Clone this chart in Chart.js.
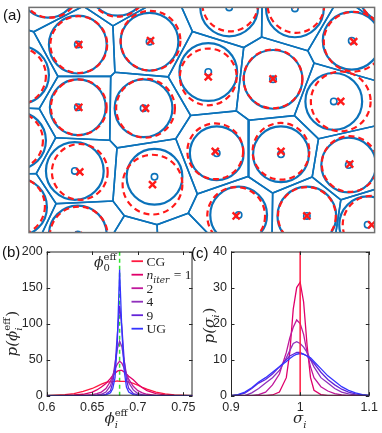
<!DOCTYPE html>
<html>
<head>
<meta charset="utf-8">
<script src="https://cdn.jsdelivr.net/npm/chart.js@4.4.0/dist/chart.umd.min.js"></script>
<style>
  body { margin: 0; background: #fff; width: 382px; height: 433px; position: relative; overflow: hidden; }
  canvas { position: absolute; }
  #cA { left: 0; top: 0; }
  #cB { left: 0; top: 240px; }
  #cC { left: 188px; top: 240px; }
</style>
</head>
<body>
<canvas id="cA" width="382" height="240"></canvas>
<canvas id="cB" width="200" height="193"></canvas>
<canvas id="cC" width="194" height="193"></canvas>
<script>
// ---- panel (a): particles (blue = actual, red = target) ----
const siteX = [49, 121, 201, 267, 324, 180, 245, 49, 115, 306, 46, 126, 188.5, 253, 321, 210.5, 279, 340, -9, -12, -11, 19, 89, 49, 361, 101, 159];
const siteY = [38, 35, 0, 1, 34, 66, 73.5, 102, 103, 96, 167, 173, 149, 150, 161, 212, 213, 222, 69, 136, 204, -19, -21, 232, -15, 263, 261];
const siteR = [29, 29, 29, 29, 29, 29, 29.5, 28, 29, 28.5, 29, 28, 27, 28, 27.5, 28.5, 29.5, 28.5, 29, 29, 29, 29, 29, 29, 30, 29, 29];
const markX = [50, 122, 202, 268, 326, 180, 245, 50, 117, 313, 51, 124, 187, 253, 322, 208, 279, 344, -12, -15, -13, 21, 89, 50, 361, 101, 159];
const markY = [38, 34, -4, -3, 35, 71, 73, 102, 103, 96, 168, 181, 147, 147, 160, 213, 213, 222, 70, 136, 203, -19, -20, 233, -15, 263, 261];
const markR = [28.5, 30, 28, 28.5, 30, 28.5, 29.5, 28, 29.5, 30, 28, 30, 28, 28.5, 28, 29, 29, 29, 29, 29, 29, 29, 29, 29, 30, 29, 29];

// ---- panel (b): p(phi_i^eff) ----
const phiX = [0.60, 0.62, 0.63, 0.64, 0.65, 0.655, 0.66, 0.665, 0.67, 0.6725, 0.675, 0.6775, 0.68, 0.6825, 0.685, 0.6875, 0.69, 0.695, 0.70, 0.705, 0.71, 0.72, 0.73, 0.74, 0.76];
const phiCG = [0, 1.5, 3, 6, 10, 13, 16, 18.5, 19.5, 20, 20, 20.5, 20, 20, 20, 19.5, 19, 17, 14.5, 11.5, 9, 5, 2.5, 1, 0];
const phiN1 = [0, 0.3, 1, 2, 5, 8, 12, 17, 24, 28, 31, 34, 35, 35, 33, 30, 27, 22, 16, 11, 7, 3, 1.2, 0.4, 0];
const phiN2 = [0, 0, 0, 0.5, 1.5, 3, 5, 10, 20, 28, 37, 44, 48, 45, 38, 30, 23, 13, 7, 4, 2, 0.5, 0, 0, 0];
const phiN4 = [0, 0, 0, 0, 0.5, 1, 2, 5, 14, 25, 45, 65, 76, 68, 48, 30, 18, 8, 3, 1.5, 0.5, 0, 0, 0, 0];
const phiN9 = [0, 0, 0, 0, 0, 0, 0.5, 2, 7, 18, 40, 85, 125, 95, 50, 22, 10, 3, 1, 0.5, 0, 0, 0, 0, 0];
const phiUG = [0, 0, 0, 0, 0, 0, 0, 1, 4, 10, 25, 75, 175, 90, 35, 12, 5, 1.5, 0.5, 0, 0, 0, 0, 0, 0];
const phi0 = 0.68;
const phiTicks = [0.6, 0.65, 0.7, 0.75];
const phiYTicks = [0, 50, 100, 150, 200];
const seriesNames = ['CG', 'n_iter = 1', '2', '4', '9', 'UG'];
const seriesColors = ['#ff1a40', '#e0006a', '#c0189c', '#9030bc', '#6424d8', '#3434ff'];

// ---- panel (c): p(sigma_i) ----
const sigX = [0.90, 0.91, 0.92, 0.93, 0.94, 0.95, 0.96, 0.97, 0.98, 0.985, 0.99, 0.995, 1.0, 1.005, 1.01, 1.015, 1.02, 1.03, 1.04, 1.05, 1.06, 1.07, 1.08, 1.09, 1.10];
const sigN1 = [0, 0, 0, 0, 0, 0, 0.2, 1, 5, 12, 24, 30, 31.5, 26, 14, 5, 1.5, 0.3, 0, 0, 0, 0, 0, 0, 0];
const sigN2 = [0, 0, 0, 0, 0.3, 1, 3, 6, 12, 16, 19, 21, 20, 17, 12, 8, 5, 2.5, 1.3, 0.6, 0.2, 0, 0, 0, 0];
const sigN4 = [0, 0, 0, 0.8, 2, 3.5, 5, 7, 10.5, 12.5, 14.5, 15, 14.5, 13.5, 12, 10, 8, 5, 3.5, 2, 1, 0.5, 0.2, 0, 0];
const sigN9 = [0, 0.2, 0.7, 2, 3.5, 4.5, 6, 8, 10, 11, 11.5, 12, 12, 11.5, 11, 10, 9, 6.5, 4.5, 3, 1.8, 1, 0.5, 0.2, 0];
const sigUG = [0, 0.3, 1, 2.2, 3.8, 5, 6.5, 8, 9.5, 10.3, 11, 11.5, 11.7, 11.5, 11, 10.5, 9.5, 7.5, 5.5, 4, 2.5, 1.5, 0.8, 0.3, 0.1];
const sigCG = 1;
const sigTicks = [0.9, 1, 1.1];
const sigYTicks = [0, 10, 20, 30, 40];

const BLUE = '#0b72ba', RED = '#ff1a1a', INK = '#262626';
Chart.defaults.animation = false;
Chart.defaults.font.family = 'Liberation Sans';
Chart.defaults.color = INK;

// power diagram cell of site i, by clipping a big box with half planes
function clip(poly, a, b, c) {
  const out = [];
  for (let k = 0; k < poly.length; k++) {
    const p = poly[k], q = poly[(k + 1) % poly.length];
    const fp = a * p[0] + b * p[1] - c, fq = a * q[0] + b * q[1] - c;
    if (fp <= 0) out.push(p);
    if ((fp < 0 && fq > 0) || (fp > 0 && fq < 0)) {
      const t = fp / (fp - fq);
      out.push([p[0] + t * (q[0] - p[0]), p[1] + t * (q[1] - p[1])]);
    }
  }
  return out;
}
function cell(i) {
  let poly = [[-90, -90], [440, -90], [440, 330], [-90, 330]];
  for (let j = 0; j < siteX.length; j++) {
    if (j === i) continue;
    const a = 2 * (siteX[j] - siteX[i]), b = 2 * (siteY[j] - siteY[i]);
    const c = siteX[j] ** 2 + siteY[j] ** 2 - siteX[i] ** 2 - siteY[i] ** 2 - siteR[j] ** 2 + siteR[i] ** 2;
    poly = clip(poly, a, b, c);
  }
  return poly;
}

// text with stacked sub/superscripts
function drawMath(ctx, items, x, y, size, align, rot) {
  const small = Math.round(size * 0.68);
  const fb = it => (it ? 'italic ' : '') + size + 'px "DejaVu Serif"';
  const fs = it => (it ? 'italic ' : '') + small + 'px "DejaVu Serif"';
  const widths = items.map(p => {
    if (p.t !== undefined) { ctx.font = p.font || fb(p.it); return ctx.measureText(p.t).width; }
    let w = 0;
    if (p.sub) { ctx.font = fs(p.subIt); w = ctx.measureText(p.sub).width; }
    if (p.sup) { ctx.font = fs(false); w = Math.max(w, ctx.measureText(p.sup).width); }
    return w + 1;
  });
  const total = widths.reduce((s, w) => s + w, 0);
  ctx.save();
  ctx.translate(x, y);
  if (rot) ctx.rotate(rot);
  ctx.textAlign = 'left';
  ctx.textBaseline = 'alphabetic';
  ctx.fillStyle = INK;
  let cx = align === 'left' ? 0 : align === 'right' ? -total : -total / 2;
  items.forEach((p, k) => {
    if (p.t !== undefined) { ctx.font = p.font || fb(p.it); ctx.fillText(p.t, cx, 0); }
    else {
      if (p.sub) { ctx.font = fs(p.subIt); ctx.fillText(p.sub, cx, size * 0.3); }
      if (p.sup) { ctx.font = fs(false); ctx.fillText(p.sup, cx, -size * 0.45); }
    }
    cx += widths[k];
  });
  ctx.restore();
}

function letter(ctx, txt, x, y) {
  ctx.save();
  ctx.font = '15px "Liberation Sans"';
  ctx.fillStyle = '#111';
  ctx.textBaseline = 'alphabetic';
  ctx.fillText(txt, x, y);
  ctx.restore();
}

// ---- chart (a) ----
const cellSets = siteX.map((_, i) => {
  const poly = cell(i);
  return {
    data: poly.concat([poly[0]]).map(p => ({ x: p[0], y: p[1] })),
    showLine: true, borderColor: BLUE, borderWidth: 1.6, pointRadius: 0, order: 3
  };
});

const circlesPlugin = {
  id: 'circles',
  afterDatasetsDraw(chart) {
    const { ctx, chartArea: a, scales: { x, y } } = chart;
    ctx.save();
    ctx.beginPath();
    ctx.rect(a.left, a.top, a.width, a.height);
    ctx.clip();
    ctx.lineWidth = 2.2;
    ctx.strokeStyle = BLUE;
    siteX.forEach((v, i) => {
      const cx = x.getPixelForValue(v), cy = y.getPixelForValue(siteY[i]);
      const r = Math.abs(x.getPixelForValue(v + siteR[i]) - cx);
      ctx.beginPath(); ctx.arc(cx, cy, r, 0, 2 * Math.PI); ctx.stroke();
    });
    ctx.strokeStyle = RED;
    ctx.setLineDash([6, 4]);
    markX.forEach((v, i) => {
      const cx = x.getPixelForValue(v), cy = y.getPixelForValue(markY[i]);
      const r = Math.abs(x.getPixelForValue(v + markR[i]) - cx);
      ctx.beginPath(); ctx.arc(cx, cy, r, 0, 2 * Math.PI); ctx.stroke();
    });
    ctx.restore();
  },
  afterDraw(chart) {
    const { ctx, chartArea: a } = chart;
    ctx.save();
    ctx.strokeStyle = '#707070';
    ctx.lineWidth = 1.5;
    ctx.strokeRect(a.left, a.top, a.width, a.height);
    ctx.restore();
    letter(ctx, '(a)', 3, 20);
  }
};

new Chart(document.getElementById('cA'), {
  type: 'scatter',
  data: {
    datasets: cellSets.concat([
      { data: siteX.map((v, i) => ({ x: v, y: siteY[i] })), pointStyle: 'circle', pointRadius: 3.2,
        pointBorderWidth: 1.6, pointBorderColor: BLUE, pointBackgroundColor: 'rgba(0,0,0,0)', order: 2 },
      { data: markX.map((v, i) => ({ x: v, y: markY[i] })), pointStyle: 'crossRot', pointRadius: 5,
        pointBorderWidth: 2.4, pointBorderColor: RED, order: 1 }
    ])
  },
  options: {
    responsive: false,
    layout: { padding: { left: 29, top: 5, right: 6, bottom: 5 } },
    plugins: { legend: { display: false }, tooltip: { enabled: false } },
    scales: {
      x: { type: 'linear', min: 0, max: 347, display: false },
      y: { type: 'linear', min: 0, max: 230, reverse: true, display: false }
    }
  },
  plugins: [circlesPlugin]
});

// ---- frame with inward ticks for (b), (c) ----
const framePlugin = {
  id: 'frame',
  afterDraw(chart) {
    const { ctx, chartArea: a, scales: { x, y } } = chart;
    ctx.save();
    ctx.strokeStyle = INK;
    ctx.lineWidth = 1;
    ctx.strokeRect(a.left + 0.5, a.top + 0.5, a.width - 1, a.height - 1);
    ctx.beginPath();
    x.ticks.forEach(t => {
      const px = Math.round(x.getPixelForValue(t.value)) + 0.5;
      ctx.moveTo(px, a.bottom); ctx.lineTo(px, a.bottom - 3.5);
      ctx.moveTo(px, a.top); ctx.lineTo(px, a.top + 3.5);
    });
    y.ticks.forEach(t => {
      const py = Math.round(y.getPixelForValue(t.value)) + 0.5;
      ctx.moveTo(a.left, py); ctx.lineTo(a.left + 3.5, py);
      ctx.moveTo(a.right, py); ctx.lineTo(a.right - 3.5, py);
    });
    ctx.stroke();
    ctx.restore();
  }
};

function axes(xMin, xMax, xTicks, yMax, yTicks, yWidth) {
  const font = { family: 'Liberation Sans', size: 12.5 };
  return {
    x: { type: 'linear', min: xMin, max: xMax, grid: { display: false, drawTicks: false }, border: { display: false },
         afterBuildTicks: s => { s.ticks = xTicks.map(v => ({ value: v })); },
         afterFit: s => { s.height = 37.3; },
         ticks: { font, color: INK, padding: 4, maxRotation: 0, autoSkip: false, callback: v => String(v) } },
    y: { type: 'linear', min: 0, max: yMax, grid: { display: false, drawTicks: false }, border: { display: false },
         afterBuildTicks: s => { s.ticks = yTicks.map(v => ({ value: v })); },
         afterFit: s => { s.width = yWidth; },
         ticks: { font, color: INK, padding: 4, autoSkip: false, callback: v => String(v) } }
  };
}

function curve(xs, ys, color, order) {
  return { data: xs.map((v, i) => ({ x: v, y: ys[i] })), showLine: true, borderColor: color,
           borderWidth: 1.3, pointRadius: 0, order };
}

// ---- chart (b) ----
const phiSeries = [phiCG, phiN1, phiN2, phiN4, phiN9, phiUG];
const legendPlugin = {
  id: 'legendB',
  afterDraw(chart) {
    const { ctx, chartArea: a, scales: { x } } = chart;
    seriesNames.forEach((name, k) => {
      const yy = a.top + 9.7 + 13.5 * k;
      ctx.save();
      ctx.strokeStyle = seriesColors[k];
      ctx.lineWidth = 1.8;
      ctx.beginPath(); ctx.moveTo(a.right - 61, yy); ctx.lineTo(a.right - 49.5, yy); ctx.stroke();
      ctx.restore();
      const tx = a.right - 46, base = yy + 4.5;
      if (name.includes('_')) {
        const [b, rest] = name.split('_');
        const sub = rest.split(' ')[0], tail = rest.slice(sub.length);
        drawMath(ctx, [{ t: b, it: true, font: 'italic 13.5px "Liberation Serif"' }, { sub, subIt: true },
                       { t: tail, font: '13.5px "Liberation Serif"' }], tx, base, 13.5, 'left');
      } else {
        ctx.save();
        ctx.font = '13.5px "Liberation Serif"';
        ctx.fillStyle = INK;
        ctx.fillText(name, tx, base);
        ctx.restore();
      }
    });
    // phi_0^eff marker label
    drawMath(ctx, [{ t: '\u03D5', it: true }, { sub: '0', sup: 'eff' }], x.getPixelForValue(phi0) - 2, a.top + 15, 14, 'right');
    // axis labels
    drawMath(ctx, [{ t: '\u03D5', it: true }, { sub: 'i', subIt: true, sup: 'eff' }], (a.left + a.right) / 2 - 3, 183, 15, 'center');
    drawMath(ctx, [{ t: 'p(', it: true }, { t: '\u03D5', it: true }, { sub: 'i', subIt: true, sup: 'eff' }, { t: ')' }],
             17, (a.top + a.bottom) / 2 + 10, 15, 'center', -Math.PI / 2);
    letter(ctx, '(b)', 2, 17);
  }
};

new Chart(document.getElementById('cB'), {
  type: 'scatter',
  data: {
    datasets: phiSeries.map((s, k) => curve(phiX, s, seriesColors[k], 10 - k)).concat([
      { data: [{ x: phi0, y: 0 }, { x: phi0, y: 200 }], showLine: true, borderColor: '#2ee62e',
        borderDash: [4, 3], borderWidth: 1.5, pointRadius: 0, order: 20 }
    ])
  },
  options: {
    responsive: false,
    layout: { padding: { left: 4, top: 11, right: 7, bottom: 0 } },
    plugins: { legend: { display: false }, tooltip: { enabled: false } },
    scales: axes(0.6, 0.76, phiTicks, 200, phiYTicks, 42.7)
  },
  plugins: [framePlugin, legendPlugin]
});

// ---- chart (c) ----
const sigSeries = [sigN1, sigN2, sigN4, sigN9, sigUG];
const labelsC = {
  id: 'labelsC',
  afterDraw(chart) {
    const { ctx, chartArea: a } = chart;
    drawMath(ctx, [{ t: '\u03C3', it: true }, { sub: 'i', subIt: true }], (a.left + a.right) / 2, 183, 15, 'center');
    drawMath(ctx, [{ t: 'p(', it: true }, { t: '\u03C3', it: true }, { sub: 'i', subIt: true }, { t: ')' }],
             26, (a.top + a.bottom) / 2 + 2, 15, 'center', -Math.PI / 2);
    letter(ctx, '(c)', 3, 18);
  }
};

new Chart(document.getElementById('cC'), {
  type: 'scatter',
  data: {
    datasets: sigSeries.map((s, k) => curve(sigX, s, seriesColors[k + 1], 10 - k)).concat([
      { data: [{ x: sigCG, y: 0 }, { x: sigCG, y: 40 }], showLine: true, borderColor: seriesColors[0],
        borderWidth: 1.5, pointRadius: 0, order: 0 }
    ])
  },
  options: {
    responsive: false,
    layout: { padding: { left: 4, top: 11, right: 6, bottom: 0 } },
    plugins: { legend: { display: false }, tooltip: { enabled: false } },
    scales: axes(0.9, 1.1, sigTicks, 40, sigYTicks, 39)
  },
  plugins: [framePlugin, labelsC]
});
</script>
</body>
</html>
